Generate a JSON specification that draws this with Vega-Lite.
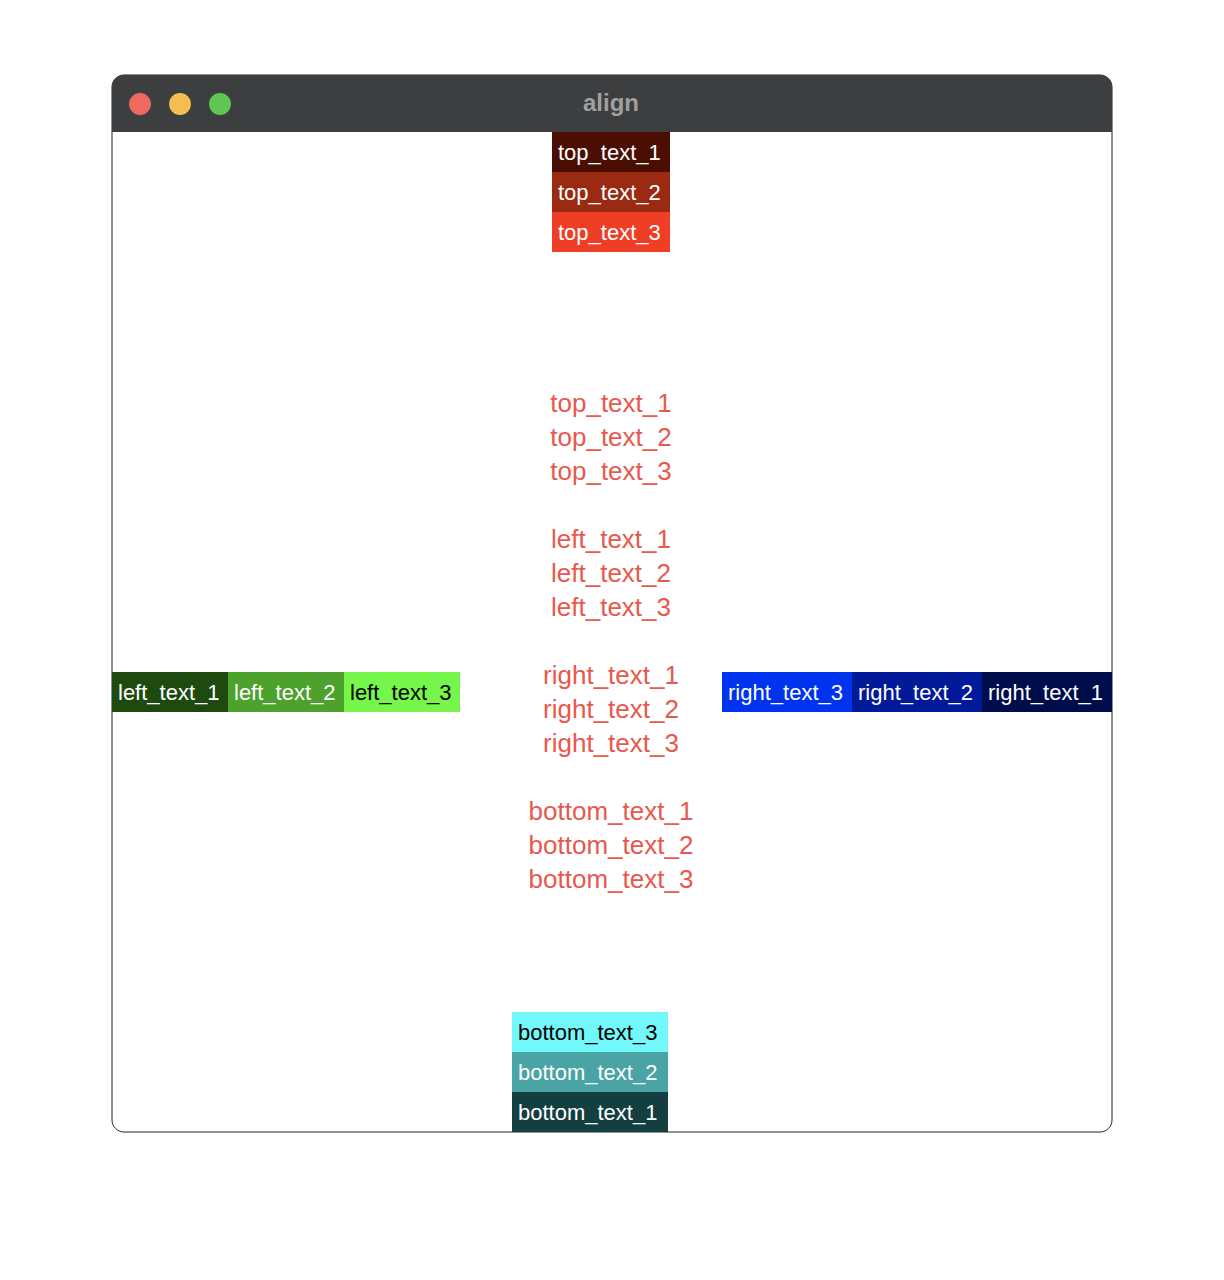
{
  "$schema": "https://vega.github.io/schema/vega-lite/v6.json",
  "width": 1224,
  "height": 1280,
  "autosize": "none",
  "padding": 0,
  "background": "#ffffff",
  "config": {"view": {"stroke": null}, "font": "Liberation Sans"},
  "datasets": {
    "win": [{"x": 112, "x2": 1112, "y": 75, "y2": 1132, "ty": 132}],
    "lights": [
      {"name": "close", "x": 140, "y": 104},
      {"name": "min", "x": 180, "y": 104},
      {"name": "max", "x": 220, "y": 104}
    ],
    "boxes": [
      {"label": "top_text_1", "x": 552, "x2": 670, "y": 132, "y2": 172},
      {"label": "top_text_2", "x": 552, "x2": 670, "y": 172, "y2": 212},
      {"label": "top_text_3", "x": 552, "x2": 670, "y": 212, "y2": 252},
      {"label": "left_text_1", "x": 112, "x2": 228, "y": 672, "y2": 712},
      {"label": "left_text_2", "x": 228, "x2": 344, "y": 672, "y2": 712},
      {"label": "left_text_3", "x": 344, "x2": 460, "y": 672, "y2": 712},
      {"label": "right_text_3", "x": 722, "x2": 852, "y": 672, "y2": 712},
      {"label": "right_text_2", "x": 852, "x2": 982, "y": 672, "y2": 712},
      {"label": "right_text_1", "x": 982, "x2": 1112, "y": 672, "y2": 712},
      {"label": "bottom_text_3", "x": 512, "x2": 668, "y": 1012, "y2": 1052},
      {"label": "bottom_text_2", "x": 512, "x2": 668, "y": 1052, "y2": 1092},
      {"label": "bottom_text_1", "x": 512, "x2": 668, "y": 1092, "y2": 1132}
    ],
    "center": [
      {"label": "top_text_1", "y": 404},
      {"label": "top_text_2", "y": 438},
      {"label": "top_text_3", "y": 472},
      {"label": "left_text_1", "y": 540},
      {"label": "left_text_2", "y": 574},
      {"label": "left_text_3", "y": 608},
      {"label": "right_text_1", "y": 676},
      {"label": "right_text_2", "y": 710},
      {"label": "right_text_3", "y": 744},
      {"label": "bottom_text_1", "y": 812},
      {"label": "bottom_text_2", "y": 846},
      {"label": "bottom_text_3", "y": 880}
    ]
  },
  "layer": [
    {
      "data": {"name": "win"},
      "mark": {"type": "rect", "fill": "#ffffff", "stroke": "#222222", "strokeWidth": 1, "cornerRadius": 12},
      "encoding": {
        "x": {"field": "x", "type": "quantitative", "scale": {"domain": [0, 1224], "nice": false, "zero": false}, "axis": null},
        "x2": {"field": "x2"},
        "y": {"field": "y", "type": "quantitative", "scale": {"domain": [0, 1280], "nice": false, "zero": false, "reverse": true}, "axis": null},
        "y2": {"field": "y2"}
      }
    },
    {
      "data": {"name": "win"},
      "mark": {"type": "rect", "fill": "#3d3e40", "cornerRadiusTopLeft": 12, "cornerRadiusTopRight": 12},
      "encoding": {
        "x": {"field": "x", "type": "quantitative"},
        "x2": {"field": "x2"},
        "y": {"field": "y", "type": "quantitative"},
        "y2": {"field": "ty"}
      }
    },
    {
      "data": {"name": "lights"},
      "mark": {"type": "circle", "size": 480, "opacity": 1},
      "encoding": {
        "x": {"field": "x", "type": "quantitative"},
        "y": {"field": "y", "type": "quantitative"},
        "color": {"field": "name", "type": "nominal", "legend": null,
          "scale": {"domain": ["close", "min", "max"], "range": ["#ee6a5f", "#f5bd4f", "#61c554"]}}
      }
    },
    {
      "data": {"values": [{"t": "align", "x": 611, "y": 104}]},
      "mark": {"type": "text", "fontSize": 24, "fontWeight": "bold", "fill": "#a0a0a0", "align": "center", "baseline": "middle"},
      "encoding": {
        "x": {"field": "x", "type": "quantitative"},
        "y": {"field": "y", "type": "quantitative"},
        "text": {"field": "t"}
      }
    },
    {
      "data": {"name": "boxes"},
      "mark": {"type": "rect"},
      "encoding": {
        "x": {"field": "x", "type": "quantitative"},
        "x2": {"field": "x2"},
        "y": {"field": "y", "type": "quantitative"},
        "y2": {"field": "y2"},
        "fill": {"field": "label", "type": "nominal", "legend": null,
          "scale": {
            "domain": ["top_text_1", "top_text_2", "top_text_3", "left_text_1", "left_text_2", "left_text_3", "right_text_1", "right_text_2", "right_text_3", "bottom_text_1", "bottom_text_2", "bottom_text_3"],
            "range": ["#4a0f02", "#9a2a12", "#ee3e25", "#1e4a10", "#4ca22c", "#76f54a", "#000d4d", "#001a99", "#0033ee", "#143f40", "#4aa3a5", "#72f7fb"]
          }}
      }
    },
    {
      "data": {"name": "boxes"},
      "transform": [{"calculate": "(datum.y + datum.y2) / 2", "as": "yc"}],
      "mark": {"type": "text", "fontSize": 22, "align": "left", "baseline": "middle", "dx": 6, "dy": 1},
      "encoding": {
        "x": {"field": "x", "type": "quantitative"},
        "y": {"field": "yc", "type": "quantitative"},
        "text": {"field": "label"},
        "color": {"field": "label", "type": "nominal", "legend": null,
          "scale": {
            "domain": ["top_text_1", "top_text_2", "top_text_3", "left_text_1", "left_text_2", "left_text_3", "right_text_1", "right_text_2", "right_text_3", "bottom_text_1", "bottom_text_2", "bottom_text_3"],
            "range": ["#ffffff", "#ffffff", "#ffffff", "#ffffff", "#ffffff", "#000000", "#ffffff", "#ffffff", "#ffffff", "#ffffff", "#ffffff", "#000000"]
          }}
      }
    },
    {
      "data": {"name": "center"},
      "mark": {"type": "text", "fontSize": 26, "align": "center", "baseline": "middle", "fill": "#e8584c"},
      "encoding": {
        "x": {"datum": 611, "type": "quantitative"},
        "y": {"field": "y", "type": "quantitative"},
        "text": {"field": "label"}
      }
    }
  ],
  "resolve": {"scale": {"color": "independent", "fill": "independent"}}
}
